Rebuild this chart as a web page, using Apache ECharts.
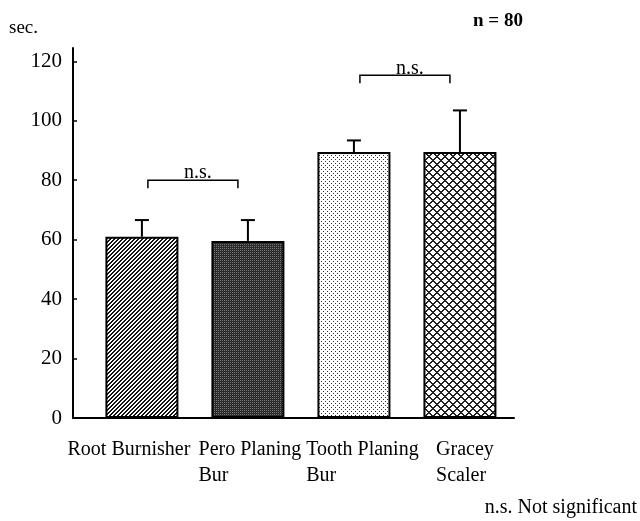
<!DOCTYPE html>
<html><head><meta charset="utf-8">
<script src="https://cdn.jsdelivr.net/npm/echarts@6/dist/echarts.min.js"></script>
<style>html,body{margin:0;padding:0;background:#fff}#c{width:640px;height:521px}</style>
</head><body><div id="c"></div>
<script>
// ---- data ----
const categories = ['Root Burnisher', 'Pero Planing\nBur', 'Tooth Planing\nBur', 'Gracey\nScaler'];
const meanSeconds = [61, 59.6, 89.5, 89.5];
const errorTop = [66.6, 66.6, 93.4, 103.5];
const yTickValues = [0, 20, 40, 60, 80, 100, 120];
const comparisons = [[0, 1], [2, 3]];
const comparisonHeights = [80, 115.3];
const comparisonLabels = ['n.s.', 'n.s.'];
const yUnit = 'sec.';
const sampleNote = 'n = 80';
const footnote = 'n.s. Not significant';

const positions = categories.map((_, i) => i + 1);
const FONT = '"Liberation Serif", "Times New Roman", serif';

function makePattern(size, draw) {
  const c = document.createElement('canvas');
  c.width = size; c.height = size;
  const ctx = c.getContext('2d');
  draw(ctx, size);
  return { image: c, repeat: 'repeat' };
}
const patStripes = makePattern(4, (ctx, s) => {
  ctx.fillStyle = '#fff'; ctx.fillRect(0, 0, s, s);
  ctx.fillStyle = '#111';
  for (let x = 0; x < s; x++) for (let y = 0; y < s; y++) if ((x + y) % 4 < 2) ctx.fillRect(x, y, 1, 1);
});
const patDark = makePattern(2, (ctx, s) => {
  ctx.fillStyle = '#2b2b2b'; ctx.fillRect(0, 0, s, s);
  ctx.fillStyle = '#777'; ctx.fillRect(0, 0, 1, 1);
});
const patDots = makePattern(4, (ctx, s) => {
  ctx.fillStyle = '#fff'; ctx.fillRect(0, 0, s, s);
  ctx.fillStyle = '#333'; ctx.fillRect(1, 1, 1, 1); ctx.fillRect(3, 3, 1, 1);
});
const patCross = makePattern(8, (ctx, s) => {
  ctx.fillStyle = '#fff'; ctx.fillRect(0, 0, s, s);
  ctx.fillStyle = '#222';
  for (let x = 0; x < s; x++) for (let y = 0; y < s; y++)
    if ((x + y) % 8 < 2 || (x - y + 16) % 8 < 2) ctx.fillRect(x, y, 1, 1);
});
const fills = [patStripes, patDark, patDots, patCross];

const labelStyle = (pad) => ({ fontFamily: FONT, fontSize: 20, lineHeight: 26, color: '#000', align: 'left', padding: pad });

const chart = echarts.init(document.getElementById('c'), null, { renderer: 'canvas' });
chart.setOption({
  backgroundColor: '#fff',
  animation: false,
  grid: { left: 73, right: 126, top: 48, bottom: 103, outerBoundsMode: 'none' },
  xAxis: {
    type: 'value', min: 0.35, max: 4.51,
    splitLine: { show: false },
    axisTick: { show: false },
    axisLine: { show: true, lineStyle: { color: '#000', width: 2 } },
    axisLabel: {
      customValues: positions,
      showMinLabel: true, showMaxLabel: true, hideOverlap: false,
      margin: 19,
      formatter: (v) => { const i = Math.round(v) - 1; return '{r' + i + '|' + categories[i] + '}'; },
      rich: {
        r0: labelStyle([0, 0, 0, -26]),
        r1: labelStyle([0, 0, 0, 4]),
        r2: labelStyle([0, 0, 0, 17]),
        r3: labelStyle([0, 0, 0, 10])
      }
    }
  },
  yAxis: {
    type: 'value', min: 0, max: 124.5,
    splitLine: { show: false },
    axisLine: { show: true, lineStyle: { color: '#000', width: 2 } },
    axisTick: { show: true, inside: true, length: 4, customValues: yTickValues, lineStyle: { color: '#000', width: 1.5 } },
    axisLabel: { customValues: yTickValues, showMinLabel: true, margin: 11, color: '#000', fontFamily: FONT, fontSize: 21 }
  },
  graphic: [
    { type: 'text', left: 9, top: 19, style: { text: yUnit, font: '19px ' + FONT, fill: '#000' } },
    { type: 'text', left: 473, top: 12, style: { text: sampleNote, font: 'bold 19px ' + FONT, fill: '#000' } },
    { type: 'text', right: 3, top: 498, style: { text: footnote, font: '20px ' + FONT, fill: '#000' } }
  ],
  series: [
    {
      type: 'bar',
      barWidth: 73,
      data: positions.map((p, i) => ({ value: [p, meanSeconds[i]], itemStyle: { color: fills[i] } })),
      itemStyle: { borderColor: '#000', borderWidth: 2 },
      z: 2
    },
    {
      type: 'custom',
      data: positions.map((p, i) => [p, meanSeconds[i], errorTop[i]]),
      encode: { x: 0, y: [1, 2] },
      z: 3,
      renderItem(params, api) {
        const x = api.value(0);
        const base = api.coord([x, api.value(1)]);
        const top = api.coord([x, api.value(2)]);
        return { type: 'group', children: [
          { type: 'line', shape: { x1: base[0], y1: base[1], x2: top[0], y2: top[1] }, style: { stroke: '#000', lineWidth: 2 } },
          { type: 'line', shape: { x1: top[0] - 7, y1: top[1], x2: top[0] + 7, y2: top[1] }, style: { stroke: '#000', lineWidth: 2 } }
        ] };
      }
    },
    {
      type: 'custom',
      data: comparisons.map((c, k) => [positions[c[0]], positions[c[1]], comparisonHeights[k]]),
      encode: { x: [0, 1], y: 2 },
      z: 3,
      renderItem(params, api) {
        const a = api.coord([api.value(0), api.value(2)]);
        const b = api.coord([api.value(1), api.value(2)]);
        const y = a[1], x1 = a[0] + 6, x2 = b[0] - 10, leg = 8;
        return { type: 'group', children: [
          { type: 'polyline', shape: { points: [[x1, y + leg], [x1, y], [x2, y], [x2, y + leg]] }, style: { stroke: '#000', lineWidth: 1.5, fill: null } },
          { type: 'text', style: { text: comparisonLabels[params.dataIndex], x: (a[0] + b[0]) / 2 + 3, y: y + 3, textAlign: 'center', textVerticalAlign: 'bottom', font: '20px ' + FONT, fill: '#000' } }
        ] };
      }
    }
  ]
});
</script></body></html>
